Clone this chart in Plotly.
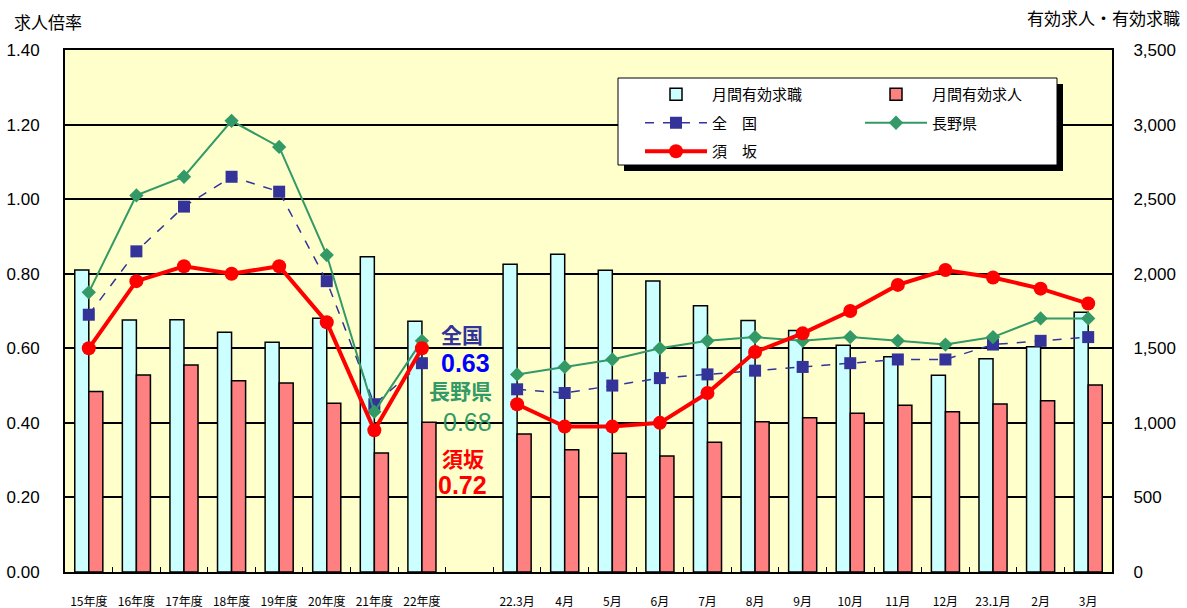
import plotly.graph_objects as go

categories = ["15年度", "16年度", "17年度", "18年度", "19年度", "20年度", "21年度", "22年度", " ",
              "22.3月", "4月", "5月", "6月", "7月", "8月", "9月", "10月", "11月", "12月", "23.1月", "2月", "3月"]

job_seekers = [2025, 1690, 1692, 1607, 1540, 1701, 2114, 1681, None,
               2063, 2130, 2023, 1951, 1786, 1687, 1620, 1520, 1444, 1319, 1430, 1511, 1741]
job_offers = [1210, 1321, 1388, 1283, 1267, 1131, 798, 1004, None,
              925, 820, 796, 778, 870, 1008, 1035, 1064, 1118, 1075, 1126, 1149, 1254]

zenkoku = [0.69, 0.86, 0.98, 1.06, 1.02, 0.78, 0.45, 0.56, None,
           0.49, 0.48, 0.50, 0.52, 0.53, 0.54, 0.55, 0.56, 0.57, 0.57, 0.61, 0.62, 0.63]
nagano = [0.75, 1.01, 1.06, 1.21, 1.14, 0.85, 0.43, 0.62, None,
          0.53, 0.55, 0.57, 0.60, 0.62, 0.63, 0.62, 0.63, 0.62, 0.61, 0.63, 0.68, 0.68]
suzaka = [0.60, 0.78, 0.82, 0.80, 0.82, 0.67, 0.38, 0.60, None,
          0.45, 0.39, 0.39, 0.40, 0.48, 0.59, 0.64, 0.70, 0.77, 0.81, 0.79, 0.76, 0.72]

FONT = "Liberation Sans, Arial, Noto Sans CJK JP"
JP = "Noto Sans CJK JP, Liberation Sans"

W, H = 1187, 608
L, R, T, B = 65, 75, 50, 36
PW, PH = W - L - R, H - T - B

def px(x):
    return (x - L) / PW

def py(y):
    return (H - B - y) / PH

fig = go.Figure()

fig.add_trace(go.Bar(x=categories, y=job_seekers, name="月間有効求職", yaxis="y",
                     marker=dict(color="#CCFFFF", line=dict(color="black", width=1.5)),
                     legend="legend", legendgroup="a"))
fig.add_trace(go.Bar(x=categories, y=job_offers, name="月間有効求人", yaxis="y",
                     marker=dict(color="#FF8080", line=dict(color="black", width=1.5)),
                     legend="legend2", legendgroup="d"))
fig.add_trace(go.Scatter(x=categories, y=zenkoku, name="全　国", yaxis="y2", mode="lines+markers",
                         line=dict(color="#333399", width=1.5, dash="dash"),
                         marker=dict(symbol="square", size=12, color="#333399"),
                         connectgaps=False, legend="legend", legendgroup="b"))
fig.add_trace(go.Scatter(x=categories, y=nagano, name="長野県", yaxis="y2", mode="lines+markers",
                         line=dict(color="#339966", width=2),
                         marker=dict(symbol="diamond", size=11, color="#339966"),
                         connectgaps=False, legend="legend2", legendgroup="e"))
fig.add_trace(go.Scatter(x=categories, y=suzaka, name="須　坂", yaxis="y2", mode="lines+markers",
                         line=dict(color="#FF0000", width=4),
                         marker=dict(symbol="circle", size=14, color="#FF0000"),
                         connectgaps=False, legend="legend", legendgroup="c"))

shapes = [
    dict(type="rect", xref="paper", yref="paper", x0=px(624), x1=px(1063), y0=py(171), y1=py(84),
         fillcolor="black", line=dict(width=0), layer="above"),
    dict(type="rect", xref="paper", yref="paper", x0=px(618), x1=px(1057), y0=py(165), y1=py(78),
         fillcolor="white", line=dict(color="black", width=1), layer="above"),
]

annotations = [
    dict(text="求人倍率", x=px(12), y=py(22), xref="paper", yref="paper", showarrow=False,
         xanchor="left", yanchor="middle", font=dict(family=JP, size=17, color="black")),
    dict(text="有効求人・有効求職", x=px(1182), y=py(18), xref="paper", yref="paper", showarrow=False,
         xanchor="right", yanchor="middle", font=dict(family=JP, size=17, color="black")),
    dict(text="<b>全国</b>", x=px(462), y=py(334), xref="paper", yref="paper", showarrow=False,
         font=dict(family=JP, size=21, color="#333399")),
    dict(text="<b>0.63</b>", x=px(465), y=py(363), xref="paper", yref="paper", showarrow=False,
         font=dict(family=FONT, size=25, color="#0000FF")),
    dict(text="<b>長野県</b>", x=px(460), y=py(407), xref="paper", yref="paper", showarrow=False,
         font=dict(family=JP, size=21, color="#339966")),
    dict(text="0.68", x=px(467), y=py(438), xref="paper", yref="paper", showarrow=False,
         font=dict(family=FONT, size=25, color="#339966")),
    dict(text="<b>須坂</b>", x=px(463), y=py(475), xref="paper", yref="paper", showarrow=False,
         font=dict(family=JP, size=21, color="#FF0000")),
    dict(text="<b>0.72</b>", x=px(462), y=py(501), xref="paper", yref="paper", showarrow=False,
         font=dict(family=FONT, size=25, color="#FF0000")),
]

legend_common = dict(bgcolor="rgba(0,0,0,0)", borderwidth=0, orientation="v",
                     font=dict(family=JP, size=15, color="black"),
                     xanchor="left", yanchor="top", tracegroupgap=6, itemwidth=62,
                     traceorder="grouped")

fig.update_layout(
    width=W, height=H,
    margin=dict(l=L, r=R, t=T, b=B, autoexpand=False),
    paper_bgcolor="white",
    plot_bgcolor="#FFFFCC",
    barmode="group", bargap=0.41, bargroupgap=0,
    font=dict(family=FONT, size=16, color="black"),
    showlegend=True,
    legend=dict(x=px(640), y=py(78), **legend_common),
    legend2=dict(x=px(860), y=py(78), **legend_common),
    xaxis=dict(type="category", categoryorder="array", categoryarray=categories,
               range=[-0.5, len(categories) - 0.5],
               showline=True, linecolor="black", linewidth=2, mirror=True,
               ticks="inside", tickson="boundaries", ticklen=5, tickcolor="black", tickwidth=1,
               ticklabelstandoff=18, tickangle=0, automargin=False,
               tickfont=dict(family=JP, size=12, color="black"), showgrid=False),
    yaxis=dict(side="right", range=[0, 3500], dtick=500, tickformat=",",
               showgrid=True, gridcolor="black", gridwidth=1.5,
               showline=True, linecolor="black", linewidth=2, zeroline=False,
               ticks="", ticklabelstandoff=16, automargin=False,
               tickfont=dict(family=FONT, size=17, color="black")),
    yaxis2=dict(side="left", overlaying="y", range=[0, 1.4], dtick=0.2, tickformat=".2f",
                showgrid=False, showline=True, linecolor="black", linewidth=2, zeroline=False,
                ticks="", ticklabelstandoff=20, automargin=False,
                tickfont=dict(family=FONT, size=17, color="black")),
    shapes=shapes,
    annotations=annotations,
)

fig.write_html("out.html", config={"displayModeBar": False},
               post_script="document.body.style.margin='0';")
